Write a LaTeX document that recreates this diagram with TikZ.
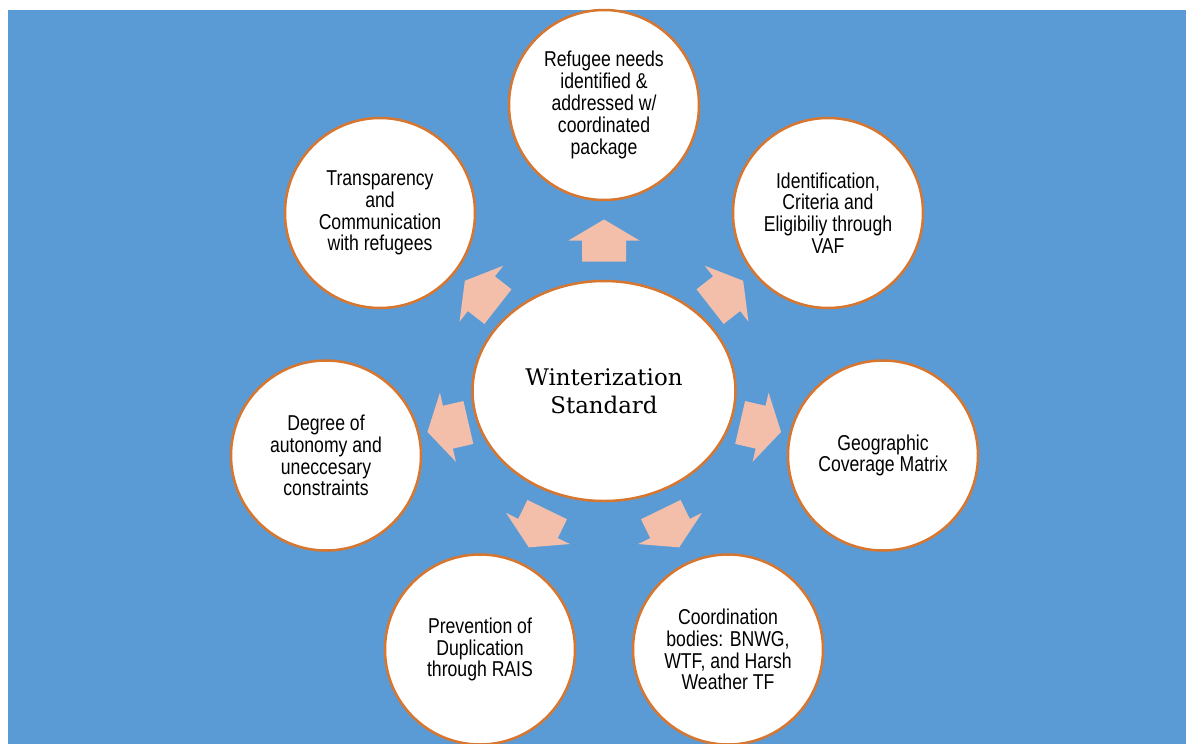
\documentclass[tikz,border=0pt]{standalone}
\usepackage{fontspec}
\setmainfont{Liberation Sans}[FakeStretch=0.82]
\newfontfamily\ctrfont{DejaVu Serif}
\usetikzlibrary{calc,shapes.geometric}
\definecolor{bgblue}{HTML}{5B9BD5}
\definecolor{ringorange}{HTML}{D7762F}
\definecolor{arrowpink}{HTML}{F3BEAA}
\tikzset{
  outer/.style={circle, draw=ringorange, line width=2.5pt, fill=white,
    minimum size=190pt, inner sep=0pt, outer sep=0pt, align=center,
    font=\fontsize{21.5}{21.8}\selectfont},
  hub/.style={ellipse, draw=ringorange, line width=2.5pt, fill=white,
    minimum width=263pt, minimum height=220pt, inner sep=0pt, outer sep=0pt,
    align=center, font=\ctrfont\fontsize{22.9}{27.7}\selectfont},
  pics/blockarr/.style={code={
    \fill[arrowpink] (-21pt,-22pt) -- (0pt,-22pt) -- (0pt,-35.5pt) -- (21pt,0pt)
      -- (0pt,35.5pt) -- (0pt,22pt) -- (-21pt,22pt) -- cycle;}}
}
\begin{document}
\begin{tikzpicture}[x=1pt,y=-1pt]
\useasboundingbox (0,0) rectangle (1186,744);
\fill[bgblue] (8,10) rectangle (1186,744);
\node[hub] (ctr) at (604,391) {Winterization\\Standard};
\node[outer] (top) at (604,105) {Refugee needs\\identified \&\\addressed w/\\coordinated\\package};
\node[outer] (tr) at (828,213) {Identification,\\Criteria and\\Eligibiliy through\\VAF};
\node[outer] (tl) at (380,213) {Transparency\\and\\Communication\\with refugees};
\node[outer] (r) at (883,455.5) {Geographic\\Coverage Matrix};
\node[outer] (l) at (326,455.5) {Degree of\\autonomy and\\uneccesary\\constraints};
\node[outer] (br) at (728,649.5) {Coordination\\bodies: BNWG,\\WTF, and Harsh\\Weather TF};
\node[outer] (bl) at (480,649.5) {Prevention of\\Duplication\\through RAIS};
\foreach \n/\a in {top/90,tr/38,tl/142,r/347,l/193,br/296,bl/244}{
  \pgfmathtruncatemacro\b{mod(\a+180,360)}
  \pic[rotate=\a] at ($(ctr.\a)!0.5!(\n.\b)$) {blockarr};
}
\end{tikzpicture}
\end{document}
